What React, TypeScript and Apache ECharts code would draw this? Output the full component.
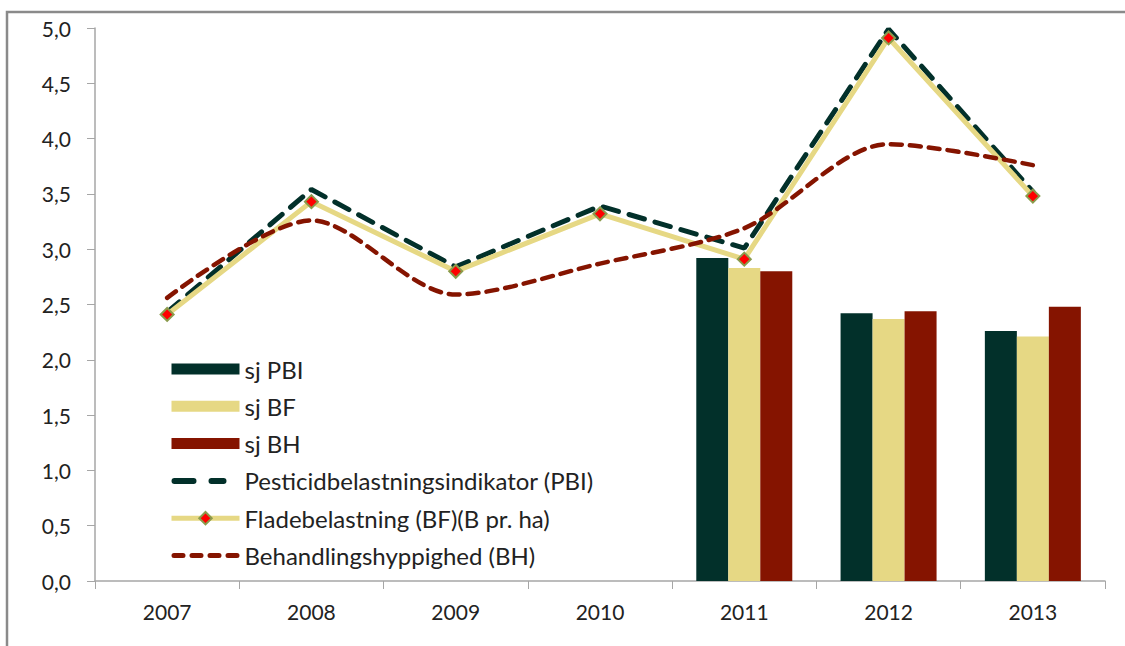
import React, { useEffect, useRef } from "react";
import * as echarts from "echarts";

const years = ["2007", "2008", "2009", "2010", "2011", "2012", "2013"];
const sjPBI = [null, null, null, null, 2.92, 2.42, 2.26];
const sjBF = [null, null, null, null, 2.83, 2.37, 2.21];
const sjBH = [null, null, null, null, 2.8, 2.44, 2.48];
const pbi = [2.43, 3.54, 2.84, 3.39, 3.01, 4.99, 3.52];
const bf = [2.41, 3.43, 2.8, 3.32, 2.91, 4.91, 3.48];
const bh = [2.56, 3.26, 2.59, 2.87, 3.19, 3.95, 3.76];

const GREEN = "#02302a";
const YELLOW = "#e6d884";
const RED = "#851400";
const FONT = "Lato";

const barIcon = "path://M0 0 L68 0 L68 11 L0 11 Z";
const pbiIcon =
  "path://M68 0 M3 0 L22 0 A3 3 0 0 1 22 6 L3 6 A3 3 0 0 1 3 0 Z M40 0 L52 0 A3 3 0 0 1 52 6 L40 6 A3 3 0 0 1 40 0 Z M0 6";
const bhIcon =
  "path://M2.5 0 L11.5 0 A2.5 2.5 0 0 1 11.5 5 L2.5 5 A2.5 2.5 0 0 1 2.5 0 Z M20.5 0 L29.5 0 A2.5 2.5 0 0 1 29.5 5 L20.5 5 A2.5 2.5 0 0 1 20.5 0 Z M38.5 0 L47.5 0 A2.5 2.5 0 0 1 47.5 5 L38.5 5 A2.5 2.5 0 0 1 38.5 0 Z M56.5 0 L65.5 0 A2.5 2.5 0 0 1 65.5 5 L56.5 5 A2.5 2.5 0 0 1 56.5 0 Z";

export default function App() {
  const ref = useRef<HTMLDivElement>(null);
  useEffect(() => {
    const chart = echarts.init(ref.current!, null, { renderer: "svg" });
    chart.setOption({
      animation: false,
      backgroundColor: "#ffffff",
      textStyle: { fontFamily: FONT },
      graphic: [
        {
          type: "rect",
          shape: { x: 7, y: 12, width: 1140, height: 660 },
          style: { fill: "none", stroke: "#8a8a8a", lineWidth: 2.5 },
          silent: true,
        },
      ],
      grid: { left: 95, right: 20, top: 28, bottom: 65, containLabel: false },
      legend: {
        orient: "vertical",
        left: 164,
        top: 351,
        itemWidth: 68,
        itemHeight: 15.6,
        itemGap: 11.3,
        symbolKeepAspect: true,
        textStyle: {
          fontFamily: FONT,
          fontSize: 24,
          color: "#222",
          lineHeight: 26,
        },
        data: [
          { name: "sj PBI", icon: barIcon },
          { name: "sj BF", icon: barIcon },
          { name: "sj BH", icon: barIcon },
          { name: "Pesticidbelastningsindikator (PBI)", icon: pbiIcon },
          { name: "Fladebelastning (BF)(B pr. ha)", lineStyle: { width: 5 } },
          { name: "Behandlingshyppighed (BH)", icon: bhIcon },
        ],
      },
      xAxis: {
        type: "category",
        data: years,
        boundaryGap: true,
        axisLine: { lineStyle: { color: "#a6a6a6", width: 1.5 } },
        axisTick: { show: true, interval: 0, length: 8, lineStyle: { color: "#a6a6a6" } },
        axisLabel: { fontFamily: FONT, fontSize: 21, color: "#222", margin: 20 },
      },
      yAxis: {
        type: "value",
        min: 0,
        max: 5,
        interval: 0.5,
        splitLine: { show: false },
        axisLine: { show: true, lineStyle: { color: "#a6a6a6", width: 1.5 } },
        axisTick: { show: true, length: 8, lineStyle: { color: "#a6a6a6" } },
        axisLabel: {
          fontFamily: FONT,
          fontSize: 21,
          color: "#222",
          margin: 24,
          formatter: (v: number) => v.toFixed(1).replace(".", ","),
        },
      },
      series: [
        { name: "sj PBI", type: "bar", data: sjPBI, barWidth: 32, barGap: "0%", itemStyle: { color: GREEN } },
        { name: "sj BF", type: "bar", data: sjBF, barWidth: 32, barGap: "0%", itemStyle: { color: YELLOW } },
        { name: "sj BH", type: "bar", data: sjBH, barWidth: 32, barGap: "0%", itemStyle: { color: RED } },
        {
          name: "Pesticidbelastningsindikator (PBI)",
          type: "line",
          data: pbi,
          symbol: "none",
          itemStyle: { color: GREEN },
          lineStyle: { color: GREEN, width: 5, type: [16, 11], cap: "round" },
          z: 3,
        },
        {
          name: "Fladebelastning (BF)(B pr. ha)",
          type: "line",
          data: bf,
          symbol: "diamond",
          symbolSize: 13,
          itemStyle: { color: "#ff0000", borderColor: "#8a9b4c", borderWidth: 2 },
          lineStyle: { color: YELLOW, width: 5 },
          z: 4,
        },
        {
          name: "Behandlingshyppighed (BH)",
          type: "line",
          data: bh,
          symbol: "none",
          smooth: 0.3,
          itemStyle: { color: RED },
          lineStyle: { color: RED, width: 4.5, type: [11, 8], cap: "round" },
          z: 5,
        },
      ],
    });
    return () => chart.dispose();
  }, []);
  return (
    <div
      ref={ref}
      style={{ position: "fixed", left: 0, top: 0, width: 1125, height: 646 }}
    />
  );
}
